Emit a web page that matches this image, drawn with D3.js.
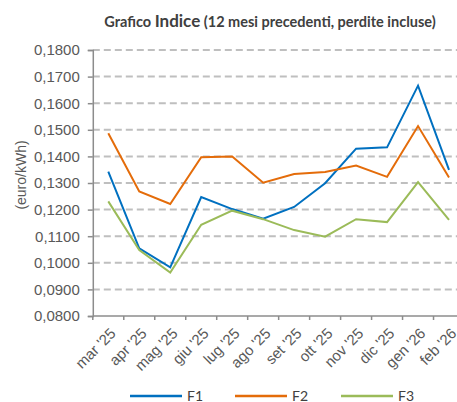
<!DOCTYPE html>
<html>
<head>
<meta charset="utf-8">
<script src="https://cdn.jsdelivr.net/npm/d3@7"></script>
<style>
  body { margin: 0; background: #fff; }
  svg { display: block; }
</style>
</head>
<body>
<script>
// chart data
var months = ["mar '25", "apr '25", "mag '25", "giu '25", "lug '25", "ago '25",
              "set '25", "ott '25", "nov '25", "dic '25", "gen '26", "feb '26"];
var f1 = [0.1343, 0.1054, 0.0983, 0.1247, 0.1202, 0.1166, 0.1210, 0.1299, 0.1429, 0.1434, 0.1666, 0.1349];
var f2 = [0.1487, 0.1268, 0.1221, 0.1397, 0.1400, 0.1301, 0.1334, 0.1341, 0.1366, 0.1323, 0.1514, 0.1321];
var f3 = [0.1231, 0.1048, 0.0963, 0.1143, 0.1196, 0.1164, 0.1123, 0.1098, 0.1164, 0.1153, 0.1303, 0.1161];
var yTicks = [0.08, 0.09, 0.10, 0.11, 0.12, 0.13, 0.14, 0.15, 0.16, 0.17, 0.18];
var seriesNames = ["F1", "F2", "F3"];
var colors = ["#0070c0", "#e46c0a", "#9bbb59"];

var W = 457, H = 402;
// plot box (note: "top" is reserved on window, so use other names)
var plotLeft = 92.8, plotRight = 464.5, plotTop = 50, plotBottom = 316;

var svg = d3.select("body").append("svg")
  .attr("width", W)
  .attr("height", H);

var x = d3.scaleBand().domain(months).range([plotLeft, plotRight]);
var y = d3.scaleLinear().domain([0.08, 0.18]).range([plotBottom, plotTop]);

var fmt = function(v) { return d3.format(".4f")(v).replace(".", ","); };

// gridlines
svg.append("g")
  .selectAll("line")
  .data(yTicks.slice(1))
  .enter().append("line")
    .attr("x1", plotLeft)
    .attr("x2", W)
    .attr("y1", function(d) { return y(d); })
    .attr("y2", function(d) { return y(d); })
    .style("stroke", "#bfbfbf")
    .style("stroke-width", 2)
    .style("stroke-dasharray", "7,4");

// left axis
var yAxis = svg.append("g")
  .attr("transform", "translate(" + plotLeft + ",0)")
  .call(d3.axisLeft(y).tickValues(yTicks).tickFormat(fmt).tickSize(5).tickPadding(8));
yAxis.select(".domain").style("stroke", "#8c8c8c").style("stroke-width", 1.5);
yAxis.selectAll(".tick line").style("stroke", "#8c8c8c").style("stroke-width", 1.5);
yAxis.selectAll("text")
  .style("font-family", "'Liberation Sans', Arial, sans-serif")
  .style("font-size", "15px")
  .style("fill", "#595959");

// bottom axis, ticks between categories
var xAxis = svg.append("g")
  .attr("transform", "translate(0," + plotBottom + ")");
xAxis.append("line")
  .attr("x1", plotLeft).attr("x2", W)
  .style("stroke", "#8c8c8c").style("stroke-width", 1.5);
xAxis.selectAll(".xtick")
  .data(months.concat([""]))
  .enter().append("line")
    .attr("class", "xtick")
    .attr("x1", function(d, i) { return plotLeft + i * x.step(); })
    .attr("x2", function(d, i) { return plotLeft + i * x.step(); })
    .attr("y1", 0).attr("y2", 4)
    .style("stroke", "#8c8c8c").style("stroke-width", 1.5);
xAxis.selectAll(".xlabel")
  .data(months)
  .enter().append("text")
    .attr("class", "xlabel")
    .attr("transform", function(d) {
      return "translate(" + (x(d) + x.bandwidth() / 2 + 1) + ",11) rotate(-45)";
    })
    .attr("text-anchor", "end")
    .attr("dy", "0.7em")
    .style("font-family", "'Liberation Sans', Arial, sans-serif")
    .style("font-size", "15px")
    .style("fill", "#595959")
    .text(function(d) { return d; });

// y label
svg.append("text")
  .attr("transform", "translate(26,175) rotate(-90)")
  .attr("text-anchor", "middle")
  .style("font-family", "'Liberation Sans', Arial, sans-serif")
  .style("font-size", "14px")
  .style("fill", "#595959")
  .text("(euro/kWh)");

// title
var title = svg.append("text")
  .attr("x", 270)
  .attr("y", 27)
  .attr("text-anchor", "middle")
  .style("font-family", "Lato, 'Open Sans', sans-serif")
  .style("font-weight", "bold")
  .style("font-size", "14.5px")
  .style("fill", "#404040");
title.append("tspan").text("Grafico ");
title.append("tspan").style("font-size", "17px").text("Indice");
title.append("tspan").text(" (12 mesi precedenti, perdite incluse)");

// lines
var line = d3.line()
  .x(function(d, i) { return x(months[i]) + x.bandwidth() / 2; })
  .y(function(d) { return y(d); });

[f1, f2, f3].forEach(function(s, i) {
  svg.append("path")
    .datum(s)
    .attr("d", line)
    .style("fill", "none")
    .style("stroke", colors[i])
    .style("stroke-width", 2)
    .style("stroke-linejoin", "miter");
});

// legend
var legendX = [130, 235, 341];
var legend = svg.selectAll(".legend")
  .data(seriesNames)
  .enter().append("g")
    .attr("class", "legend")
    .attr("transform", function(d, i) { return "translate(" + legendX[i] + ",396)"; });
legend.append("line")
  .attr("x1", 0).attr("x2", 52)
  .style("stroke", function(d, i) { return colors[i]; })
  .style("stroke-width", 2.5);
legend.append("text")
  .attr("x", 57)
  .attr("dy", "0.35em")
  .style("font-family", "Lato, 'Open Sans', sans-serif")
  .style("font-size", "14px")
  .style("fill", "#404040")
  .text(function(d) { return d; });
</script>
</body>
</html>
